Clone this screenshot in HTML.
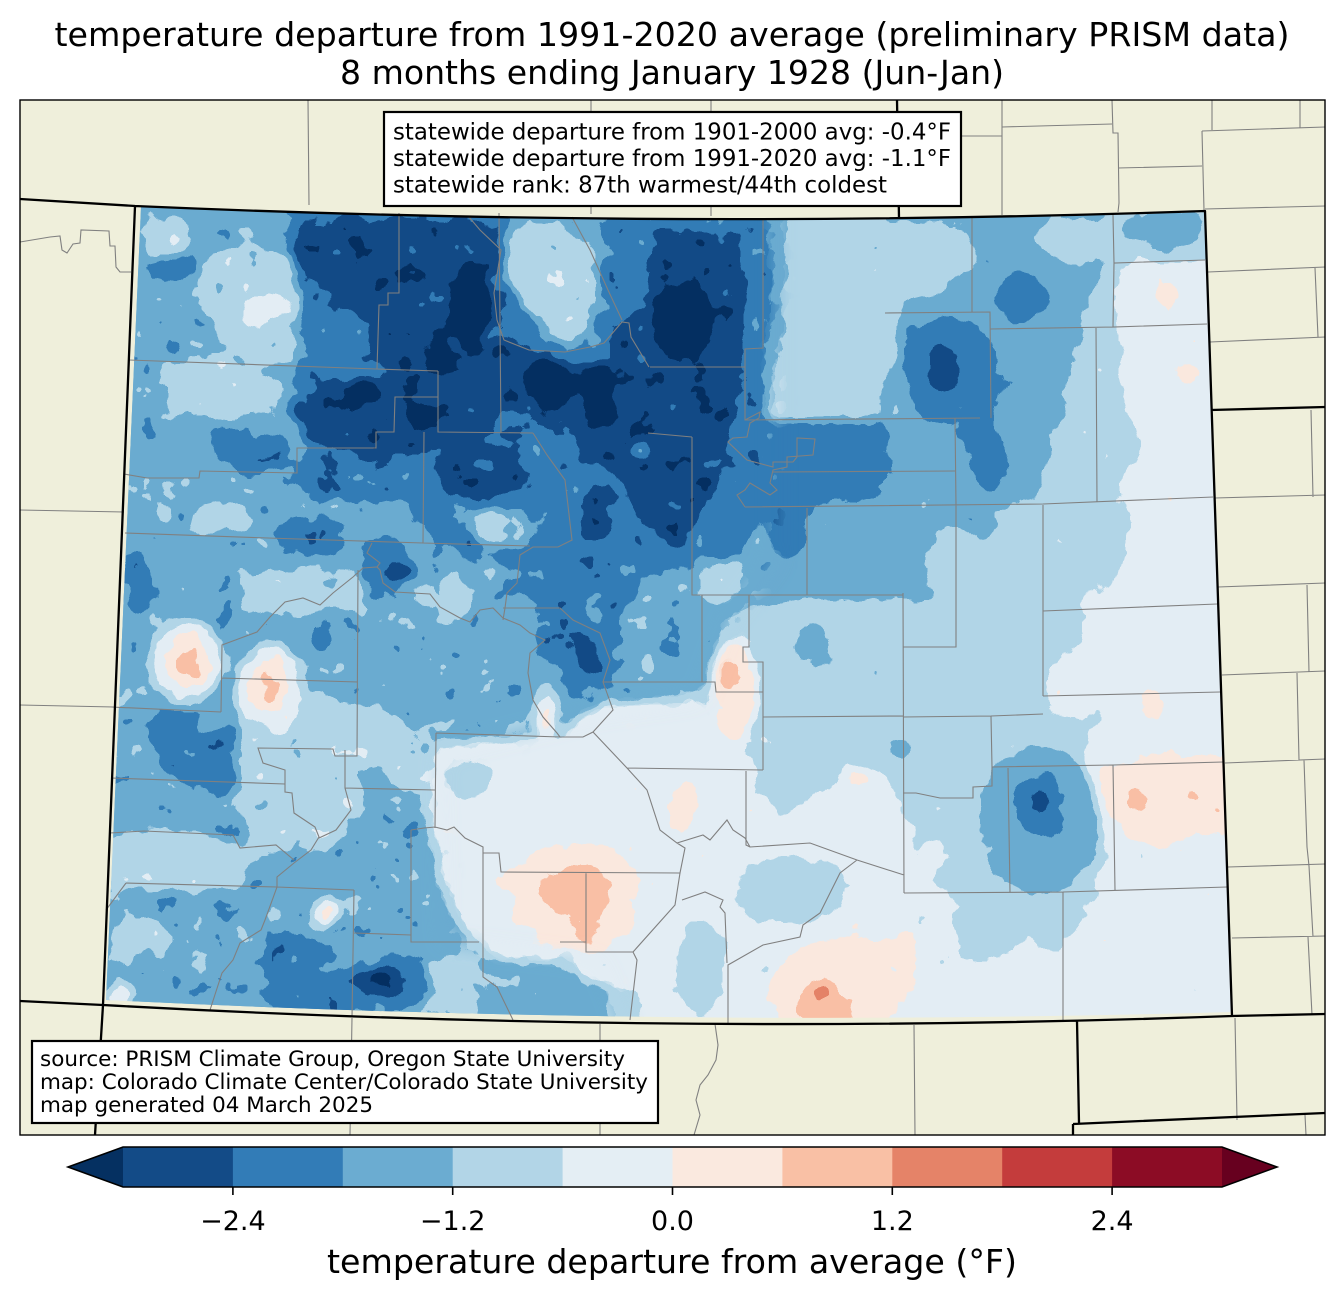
<!DOCTYPE html>
<html><head><meta charset="utf-8"><style>
html,body{margin:0;padding:0;background:#fff;}
svg{display:block;}
text{font-family:"DejaVu Sans","Liberation Sans",sans-serif;fill:#000;}
</style></head><body>
<svg width="1344" height="1299" viewBox="0 0 1344 1299" xmlns="http://www.w3.org/2000/svg">
<defs>
<clipPath id="frame"><rect x="20" y="100" width="1305" height="1035"/></clipPath>
<clipPath id="co"><path d="M141,207 Q670,230 1205,212 L1232,1012 Q670,1028 106,1000 Z"/></clipPath>
<filter id="cfE" filterUnits="userSpaceOnUse" x="60" y="160" width="1220" height="900" color-interpolation-filters="sRGB">
<feGaussianBlur in="SourceGraphic" stdDeviation="5" result="b"/>
<feTurbulence type="fractalNoise" baseFrequency="0.045" numOctaves="3" seed="7" result="t"/>
<feColorMatrix in="t" type="matrix" values="1 0 0 0 0 1 0 0 0 0 1 0 0 0 0 0 0 0 0 1" result="n"/>
<feComposite in="b" in2="n" operator="arithmetic" k1="0" k2="1" k3="0.12" k4="-0.06" result="s"/>
<feComponentTransfer in="s">
<feFuncR type="discrete" tableValues="0.0196 0.0745 0.1961 0.4196 0.6980 0.8941 0.9804 0.9765 0.8980 0.7686 0.5529 0.4039"/>
<feFuncG type="discrete" tableValues="0.1882 0.2941 0.4863 0.6745 0.8353 0.9333 0.9137 0.7529 0.5137 0.2353 0.0471 0"/>
<feFuncB type="discrete" tableValues="0.3804 0.5294 0.7176 0.8196 0.9059 0.9569 0.8745 0.6471 0.4078 0.2353 0.1451 0.1216"/>
</feComponentTransfer>
</filter>
<filter id="cfW" filterUnits="userSpaceOnUse" x="60" y="160" width="1220" height="900" color-interpolation-filters="sRGB">
<feGaussianBlur in="SourceGraphic" stdDeviation="5" result="b"/>
<feTurbulence type="fractalNoise" baseFrequency="0.038" numOctaves="3" seed="11" result="t"/>
<feColorMatrix in="t" type="matrix" values="1 0 0 0 0 1 0 0 0 0 1 0 0 0 0 0 0 0 0 1" result="n"/>
<feComposite in="b" in2="n" operator="arithmetic" k1="0" k2="1" k3="0.18" k4="-0.09" result="s"/>
<feComponentTransfer in="s">
<feFuncR type="discrete" tableValues="0.0196 0.0745 0.1961 0.4196 0.6980 0.8941 0.9804 0.9765 0.8980 0.7686 0.5529 0.4039"/>
<feFuncG type="discrete" tableValues="0.1882 0.2941 0.4863 0.6745 0.8353 0.9333 0.9137 0.7529 0.5137 0.2353 0.0471 0"/>
<feFuncB type="discrete" tableValues="0.3804 0.5294 0.7176 0.8196 0.9059 0.9569 0.8745 0.6471 0.4078 0.2353 0.1451 0.1216"/>
</feComponentTransfer>
</filter>
<filter id="mb" filterUnits="userSpaceOnUse" x="0" y="0" width="1344" height="1299">
<feGaussianBlur stdDeviation="10"/>
</filter>
<mask id="mW" maskUnits="userSpaceOnUse" x="0" y="0" width="1344" height="1299">
<polygon filter="url(#mb)" fill="#fff" points="60,160 775,160 775,560 730,620 700,700 600,715 520,735 440,755 445,940 600,960 640,1060 60,1060"/>
</mask>

<g id="field">
<rect x="60" y="160" width="1220" height="900" fill="rgb(96,96,96)"/>
<!-- C3 -->
<g fill="rgb(74,74,74)">
<polygon points="90,190 520,190 520,600 440,640 380,700 250,770 90,790"/>
<polygon points="90,790 250,770 350,760 420,800 445,900 480,960 610,975 610,1045 90,1045"/>
<polygon points="360,560 700,540 725,600 705,690 600,705 540,740 440,745 360,700"/>
<polygon points="520,190 780,190 790,260 770,420 900,420 960,470 1000,520 950,600 800,600 700,620 520,600"/>
<polygon points="880,190 1110,190 1105,260 1080,330 1060,420 1035,500 960,520 900,480 880,420"/>
<ellipse cx="1040" cy="820" rx="62" ry="75"/>
<ellipse cx="1165" cy="228" rx="40" ry="20"/>
<ellipse cx="812" cy="648" rx="18" ry="22"/>
<ellipse cx="900" cy="748" rx="10" ry="12"/>
<ellipse cx="762" cy="818" rx="10" ry="28"/>
</g>
<!-- C4 patches -->
<g fill="rgb(96,96,96)">
<ellipse cx="165" cy="236" rx="28" ry="20"/>
<polygon points="200,258 262,244 330,266 348,322 322,358 270,366 228,352 208,320"/>
<polygon points="160,362 232,358 282,378 280,415 230,420 170,412"/>
<ellipse cx="222" cy="520" rx="30" ry="18"/>
<ellipse cx="168" cy="503" rx="9" ry="22"/>
<polygon points="505,226 562,222 598,262 592,322 560,346 520,332 506,282"/>
<polygon points="785,222 962,222 978,262 942,292 902,302 896,362 870,396 820,386 792,342 788,282"/>
<ellipse cx="1075" cy="240" rx="42" ry="22"/>
<polygon points="100,835 200,830 252,852 242,885 160,890 100,882"/>
<ellipse cx="140" cy="940" rx="30" ry="24"/>
<ellipse cx="445" cy="600" rx="24" ry="26"/>
<polygon points="240,575 300,568 360,575 360,610 300,615 245,608"/>
<polygon points="240,700 300,690 362,702 362,800 332,850 252,850 238,780"/>
<ellipse cx="450" cy="985" rx="36" ry="30"/>
<ellipse cx="720" cy="568" rx="24" ry="36"/>
<ellipse cx="955" cy="565" rx="30" ry="40"/>
<ellipse cx="540" cy="475" rx="12" ry="10"/>
</g>
<!-- C5 -->
<g fill="rgb(117,117,117)">
<polygon points="1115,262 1260,255 1260,1045 960,1045 950,962 985,965 1020,945 1063,946 1090,905 1102,860 1098,805 1083,766 1085,732 1113,721 1100,708 1073,728 1055,712 1046,680 1055,655 1082,640 1082,605 1090,580 1113,590 1123,555 1128,520 1122,480 1140,445 1133,423 1117,373 1120,357 1117,293"/>
<polygon points="440,742 560,737 600,702 690,702 745,726 760,790 830,790 880,772 905,800 915,860 955,900 962,1045 640,1045 640,990 590,980 560,962 500,962 470,932 442,880 432,800"/>
<ellipse cx="265" cy="312" rx="22" ry="16"/>
<ellipse cx="186" cy="662" rx="36" ry="44"/>
<ellipse cx="270" cy="688" rx="34" ry="44"/>
<ellipse cx="935" cy="855" rx="15" ry="18"/>
<ellipse cx="118" cy="996" rx="14" ry="12"/>
<ellipse cx="333" cy="500" rx="12" ry="8"/>
<ellipse cx="545" cy="712" rx="12" ry="28"/>
</g>
<g fill="rgb(96,96,96)">
<ellipse cx="790" cy="890" rx="55" ry="35"/>
<ellipse cx="700" cy="968" rx="24" ry="50"/>
<ellipse cx="785" cy="765" rx="25" ry="50"/>
<ellipse cx="470" cy="780" rx="25" ry="20"/>
</g>
<ellipse cx="540" cy="1000" rx="45" ry="35" fill="rgb(74,74,74)"/>
<!-- C6 -->
<g fill="rgb(138,138,138)">
<ellipse cx="186" cy="661" rx="22" ry="27"/>
<ellipse cx="268" cy="686" rx="20" ry="26"/>
<polygon points="518,862 560,842 612,846 642,882 632,932 600,952 558,946 518,920 504,882"/>
<ellipse cx="735" cy="692" rx="22" ry="52"/>
<polygon points="1105,767 1150,753 1200,755 1260,758 1260,832 1190,836 1160,850 1120,832 1100,792"/>
<polygon points="778,962 810,942 850,936 892,942 918,966 902,1002 872,1040 790,1040 768,992"/>
<ellipse cx="1168" cy="298" rx="14" ry="12"/>
<ellipse cx="1188" cy="375" rx="12" ry="10"/>
<ellipse cx="1151" cy="706" rx="13" ry="17"/>
<ellipse cx="857" cy="778" rx="15" ry="10"/>
<ellipse cx="325" cy="912" rx="12" ry="14"/>
<ellipse cx="908" cy="945" rx="10" ry="15"/>
<ellipse cx="683" cy="805" rx="15" ry="25"/>
<ellipse cx="547" cy="716" rx="5" ry="16"/>
</g>
<!-- C7 -->
<g fill="rgb(157,157,157)">
<ellipse cx="187" cy="659" rx="12" ry="12"/>
<ellipse cx="270" cy="688" rx="9" ry="11"/>
<polygon points="545,872 590,860 612,882 602,930 582,942 560,918 540,896"/>
<ellipse cx="729" cy="674" rx="11" ry="15"/>
<ellipse cx="1135" cy="797" rx="10" ry="11"/>
<polygon points="798,988 825,978 842,990 852,1006 862,1040 800,1040"/>
<ellipse cx="1193" cy="795" rx="5" ry="7" fill="rgb(166,166,166)"/>
</g>
<ellipse cx="823" cy="993" rx="6" ry="5" fill="rgb(205,205,205)"/>
<!-- C2 -->
<g fill="rgb(53,53,53)">
<polygon points="280,200 505,200 505,228 510,290 560,345 600,345 600,222 640,200 762,200 772,250 762,420 762,520 742,560 682,560 642,580 602,650 572,700 542,650 522,572 472,562 442,542 402,502 302,502 290,462 330,422 290,382 302,302 290,252"/>
<ellipse cx="174" cy="267" rx="22" ry="14"/>
<ellipse cx="250" cy="452" rx="42" ry="18"/>
<polygon points="150,712 182,706 216,740 242,778 222,798 180,780 150,750"/>
<ellipse cx="226" cy="735" rx="15" ry="10"/>
<polygon points="265,935 302,930 342,955 347,1020 265,1020"/>
<ellipse cx="137" cy="582" rx="14" ry="32"/>
<ellipse cx="385" cy="985" rx="47" ry="30"/>
<polygon points="905,330 950,315 987,330 1002,380 992,420 1012,462 992,497 970,472 960,422 922,422 905,382"/>
<ellipse cx="1022" cy="297" rx="26" ry="26"/>
<polygon points="762,420 882,420 892,462 882,502 812,506 802,552 782,562 766,522 742,502 746,452"/>
<ellipse cx="1040" cy="805" rx="25" ry="32"/>
<polygon points="555,600 600,590 617,640 607,692 580,702 560,662"/>
<ellipse cx="385" cy="565" rx="24" ry="30"/>
<ellipse cx="787" cy="530" rx="20" ry="25"/>
<ellipse cx="310" cy="535" rx="38" ry="22"/>
<ellipse cx="320" cy="638" rx="12" ry="10"/>
</g>
<!-- C1 -->
<g fill="rgb(30,30,30)">
<polygon points="295,217 370,216 440,226 500,232 497,292 506,342 560,362 600,362 640,302 652,232 742,232 747,332 732,422 722,462 702,522 682,552 642,522 622,482 602,462 572,442 542,422 502,412 472,442 442,462 402,452 362,462 332,442 302,442 292,402 332,382 382,372 362,322 332,292 302,282"/>
<ellipse cx="482" cy="472" rx="45" ry="28"/>
<ellipse cx="600" cy="512" rx="18" ry="28"/>
<ellipse cx="942" cy="368" rx="17" ry="23"/>
<ellipse cx="1042" cy="803" rx="11" ry="13"/>
<ellipse cx="383" cy="983" rx="23" ry="16"/>
<ellipse cx="268" cy="462" rx="22" ry="7"/>
<ellipse cx="585" cy="650" rx="8" ry="25"/>
<ellipse cx="400" cy="572" rx="14" ry="12"/>
</g>
<!-- late light patches -->
<ellipse cx="500" cy="527" rx="30" ry="20" fill="rgb(92,92,92)"/>
<ellipse cx="640" cy="450" rx="6" ry="8" fill="rgb(74,74,74)"/>
<!-- C0 -->
<g fill="rgb(0,0,0)">
<ellipse cx="470" cy="305" rx="18" ry="42"/>
<ellipse cx="682" cy="322" rx="30" ry="36"/>
<ellipse cx="552" cy="385" rx="25" ry="24"/>
<ellipse cx="605" cy="412" rx="15" ry="16"/>
<ellipse cx="365" cy="395" rx="18" ry="12"/>
<ellipse cx="422" cy="418" rx="16" ry="11"/>
<ellipse cx="382" cy="978" rx="10" ry="7"/>
<ellipse cx="600" cy="385" rx="14" ry="20"/>
<ellipse cx="440" cy="360" rx="12" ry="20"/>
</g>
</g>
</defs>

<rect x="0" y="0" width="1344" height="1299" fill="#fff"/>

<text x="672" y="46" font-size="33" text-anchor="middle" textLength="1235" lengthAdjust="spacingAndGlyphs">temperature departure from 1991-2020 average (preliminary PRISM data)</text>
<text x="672" y="84" font-size="33" text-anchor="middle" textLength="664" lengthAdjust="spacingAndGlyphs">8 months ending January 1928 (Jun-Jan)</text>

<rect x="20" y="100" width="1305" height="1035" fill="#efefdb"/>

<g clip-path="url(#frame)">
<g clip-path="url(#co)">
<use href="#field" filter="url(#cfE)"/>
<use href="#field" filter="url(#cfW)" mask="url(#mW)"/>
</g>

<!-- county lines -->
<path fill="none" stroke="#808080" stroke-width="1.1" d="
M129,360 L376,369 L438,371
M399,213 L399,293 L388,293 L388,305 L379,305 L377,369
M438,371 L438,397 L395,397 L394,432 L376,432 L376,448 L297,448 L297,473 L200,471 L199,478 L147,478 L124,474
M438,397 L438,432 L533,433
M424,432 L423,543
M125,533 L268,538 L423,543 L530,546
M499,213 L501,433
M469,217 L480,230 L501,250 L494,293 L497,320 L504,340 L529,350 L565,352 L590,347 L604,343 L622,322 L629,323 L631,337 L649,367
M572,217 L590,250 L608,290 L622,320
M533,433 L547,455 L565,480 L572,540 L558,547 L533,547 L520,555 L517,583 L507,593 L505,608 L503,620
M503,608 L560,608 L573,620 L600,633 L610,660 L603,682 L613,710 L593,732 L583,737 L560,737 L557,733 L543,717 L533,700 L528,673 L530,653 L545,640 L530,633 L520,625 L503,618 L493,608 L480,610 L470,622 L460,618 L440,607 L430,594 L395,592 L383,583 L380,570 L377,567 L363,568 L353,577 L333,593 L320,605 L303,598 L285,602 L270,617 L257,632 L222,645 L221,712
M372,543 L367,553 L380,563 L377,567
M560,737 L436,733
M111,707 L221,712
M221,678 L358,682
M358,570 L357,756 L335,756 L333,749 L258,748 L263,763 L285,770 L285,792 L292,793 L294,813 L315,827 L319,837 L311,850 L294,863 L277,877 L277,887
M111,778 L285,784
M110,833 L144,831 L233,835 L240,848 L276,845 L294,860
M345,750 L345,788 L351,810 L336,830 L319,838
M345,788 L435,790
M126,883 L277,887 L354,890
M126,883 L106,910
M354,890 L352,1017
M277,887 L265,920 L261,930 L240,943 L233,960 L222,973 L210,1010
M354,933 L411,935
M411,830 L411,942 L479,942
M411,830 L424,828 L435,827 L447,830 L454,827 L465,838 L483,847 L483,942
M483,853 L499,853 L501,872 L680,873
M586,872 L586,952 L633,952
M560,942 L586,942
M436,733 L435,828
M483,942 L483,977 L497,987 L513,1020
M650,367 L745,367
M763,220 L763,348 L745,349 L745,420 L980,418
M885,313 L990,312 L991,418
M972,217 L972,312
M1113,215 L1114,263 L1205,260
M1114,263 L1113,327 L1207,324
M990,329 L1113,327
M1096,327 L1097,502
M773,472 L955,471
M955,418 L956,505
M745,507 L1043,504 L1213,497
M807,508 L807,595
M692,437 L692,595 L903,595
M648,433 L692,437
M1043,505 L1043,696
M1043,611 L1217,604
M1043,696 L1220,692
M903,593 L904,893
M956,505 L956,647 L903,647
M903,717 L991,716 L1043,714
M991,716 L992,767 L992,786 L973,787 L973,798 L940,798 L916,793 L903,793
M992,767 L1113,765 L1223,762
M1008,768 L1010,892
M1113,765 L1115,890
M904,893 L1063,892 L1227,887
M1063,892 L1063,1020
M702,595 L702,682 L715,682 L716,692 L763,692
M749,595 L749,647 L743,647 L743,662 L763,662 L763,770
M763,717 L903,716
M603,682 L702,682
M593,732 L627,768 L647,790 L660,830 L677,843 L685,848 L680,873 L675,905 L633,952 L637,960 L630,1020
M627,768 L763,770
M746,771 L746,845 L750,847 L810,843 L857,860 L904,875
M677,843 L703,835 L710,840 L727,820 L733,830 L745,838 L750,847
M857,860 L840,873 L820,913 L803,925 L800,937 L763,945 L728,965 L728,1023
M682,900 L705,892 L723,900 L720,907 L725,913 L727,963
M745,420 L760,412 L759,418 L750,423 L747,437 L733,438 L728,442 L747,460 L773,467 L773,462 L793,462 L797,457 L797,438 L815,439 L813,455 L787,457 L787,467 L773,470 L770,483 L777,490 L770,495 L750,483 L745,490 L737,495 L745,507
M308,100 L309,205
M591,100 L591,112 M591,206 L591,214 M711,100 L711,112 M711,206 L711,216
M1002,100 L1002,215
M961,136 L1002,136
M1002,127 L1112,124
M1112,100 L1113,133 L1118,133 L1119,203 L1118,212
M1118,168 L1202,166
M1202,131 L1204,210
M1202,131 L1325,127
M1212,100 L1212,130
M1300,100 L1300,128
M1205,209 L1325,206
M1208,272 L1325,267
M1210,342 L1325,337
M1315,268 L1318,337
M1215,498 L1325,495
M1311,410 L1313,497
M1218,587 L1325,583
M1307,585 L1309,672
M1222,675 L1325,671
M1297,673 L1299,760
M1225,763 L1325,759
M1304,760 L1307,847 L1309,866
M1228,867 L1325,864
M1309,866 L1313,937
M1232,938 L1325,936
M1308,937 L1312,1015
M1235,1018 L1237,1120
M1305,1115 L1306,1135
M914,1025 L915,1135
M600,1024 L600,1135
M352,1018 L350,1135
M20,510 L124,512
M20,705 L114,707
M20,242 L50,237 L60,236 L62,250 L67,253 L73,244 L80,243 L81,230 L109,231 L110,246 L115,246 L116,267 L120,272 L131,272
M715,1024 L718,1045 L716,1060 L708,1075 L700,1085 L696,1100 L700,1115 L694,1135
"/>

<!-- state lines -->
<path fill="none" stroke="#000" stroke-width="2.3" stroke-linejoin="round" d="
M20,199 L135,206
M135,206 Q670,229.5 1205,211 L1232,1016 Q670,1036.5 103,1005 Z
M103,1005 L95,1135
M20,1001 L103,1005
M1232,1016 L1325,1014
M897,100 L899,218
M1211,410 L1325,407
M1077,1021 L1079,1123
M1073,1124 L1325,1113
M1073,1124 L1073,1135
"/>
</g>

<rect x="20" y="100" width="1305" height="1035" fill="none" stroke="#000" stroke-width="1.4"/>

<!-- stats box -->
<rect x="384" y="112" width="577" height="94" fill="#fff" stroke="#000" stroke-width="2.2"/>
<text x="393" y="139.5" font-size="22.8" textLength="558" lengthAdjust="spacingAndGlyphs">statewide departure from 1901-2000 avg: -0.4°F</text>
<text x="393" y="166" font-size="22.8" textLength="558" lengthAdjust="spacingAndGlyphs">statewide departure from 1991-2020 avg: -1.1°F</text>
<text x="393" y="192.5" font-size="22.8" textLength="494" lengthAdjust="spacingAndGlyphs">statewide rank: 87th warmest/44th coldest</text>

<!-- source box -->
<rect x="32" y="1041" width="626" height="82" fill="#fff" stroke="#000" stroke-width="2.2"/>
<text x="40" y="1066" font-size="21.4" textLength="585" lengthAdjust="spacingAndGlyphs">source: PRISM Climate Group, Oregon State University</text>
<text x="40" y="1089" font-size="21.4" textLength="608" lengthAdjust="spacingAndGlyphs">map: Colorado Climate Center/Colorado State University</text>
<text x="40" y="1112" font-size="21.4" textLength="333" lengthAdjust="spacingAndGlyphs">map generated 04 March 2025</text>

<!-- colorbar -->
<polygon points="123,1147 68,1167 123,1187" fill="#053061"/>
<rect x="123" y="1147" width="110.4" height="40" fill="#134b87"/>
<rect x="232.9" y="1147" width="110.4" height="40" fill="#327cb7"/>
<rect x="342.8" y="1147" width="110.4" height="40" fill="#6bacd1"/>
<rect x="452.7" y="1147" width="110.4" height="40" fill="#b2d5e7"/>
<rect x="562.6" y="1147" width="110.4" height="40" fill="#e4eef4"/>
<rect x="672.5" y="1147" width="110.4" height="40" fill="#fae9df"/>
<rect x="782.4" y="1147" width="110.4" height="40" fill="#f9c0a5"/>
<rect x="892.3" y="1147" width="110.4" height="40" fill="#e58368"/>
<rect x="1002.2" y="1147" width="110.4" height="40" fill="#c43c3c"/>
<rect x="1112.1" y="1147" width="109.9" height="40" fill="#8c0c25"/>
<polygon points="1222,1147 1277,1167 1222,1187" fill="#67001f"/>
<path d="M123,1147 L1222,1147 L1277,1167 L1222,1187 L123,1187 L68,1167 Z" fill="none" stroke="#000" stroke-width="1.6"/>
<path d="M232.9,1187 L232.9,1195 M452.7,1187 L452.7,1195 M672.5,1187 L672.5,1195 M892.3,1187 L892.3,1195 M1112.1,1187 L1112.1,1195" stroke="#000" stroke-width="1.6"/>
<text x="232.9" y="1230" font-size="27" text-anchor="middle">−2.4</text>
<text x="452.7" y="1230" font-size="27" text-anchor="middle">−1.2</text>
<text x="672.5" y="1230" font-size="27" text-anchor="middle">0.0</text>
<text x="892.3" y="1230" font-size="27" text-anchor="middle">1.2</text>
<text x="1112.1" y="1230" font-size="27" text-anchor="middle">2.4</text>
<text x="672" y="1273" font-size="33" text-anchor="middle" textLength="690" lengthAdjust="spacingAndGlyphs">temperature departure from average (°F)</text>
</svg>
</body></html>
